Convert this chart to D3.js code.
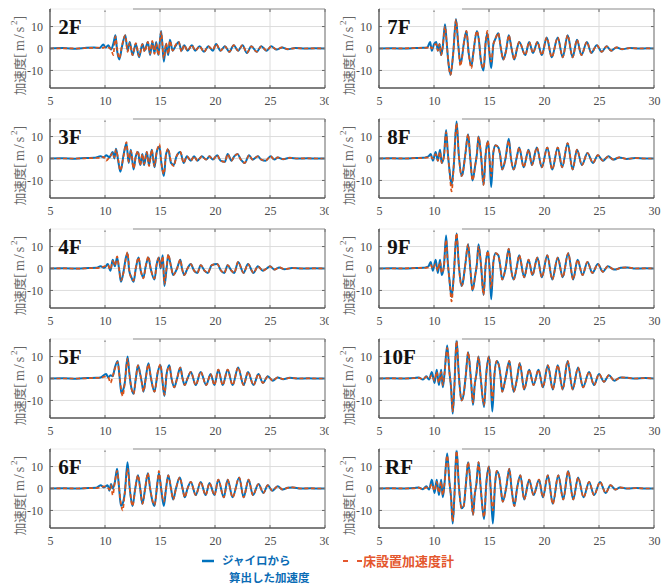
<!DOCTYPE html>
<html>
<head>
<meta charset="utf-8">
<script src="https://cdn.jsdelivr.net/npm/d3@7"></script>
<style>
  body { margin: 0; background: #fff; }
  svg { display: block; }
</style>
</head>
<body>
<script>
// Floor names: left column 2F–6F, right column 7F–RF
const floors = ["2F", "3F", "4F", "5F", "6F", "7F", "8F", "9F", "10F", "RF"];
const xTicks = [5, 10, 15, 20, 25, 30];
const yTicks = [-10, 0, 10];
const legendLabels = [["ジャイロから", "算出した加速度"], ["床設置加速度計"]];

// Each row: [time (s), acceleration from gyro (m/s²), floor accelerometer (m/s²)]
const floor2F = [
  [5.0,0,0],[6.2,0.2,0.1],[7.4,-0.1,0],[8.3,0.3,0.2],[9.0,0.4,0.3],[9.5,0.2,0.4],
  [9.85,1.8,0.3],[10.05,0.4,0.8],[10.3,1.5,0.5],[10.55,-0.5,-0.3],[10.75,2,-3],[10.95,6,5.5],
  [11.1,-1,0],[11.3,-5,-4.5],[11.55,1,1.5],[11.85,6,6],[12.05,-1,-1.5],[12.25,3,2.5],
  [12.5,-3,-3],[12.8,2,2.5],[13.1,-4,-3.5],[13.4,2,2],[13.6,-1,-1.5],[13.9,3,3],
  [14.1,-3,-2.5],[14.3,3,3.5],[14.5,-2,-2.5],[14.65,3,2.5],[14.85,-3,-3],[15.1,8,7.5],
  [15.35,-6,-4.5],[15.55,2,2.5],[15.75,-3,-2.5],[15.9,4,3.5],[16.15,-1,-1],[16.4,1,1.5],
  [16.7,3,3],[16.95,-1,-1.5],[17.2,1.5,1.5],[17.5,-1,-1],[17.9,1.5,1.5],[18.2,-1,-1],
  [18.6,1,1],[19.0,-1.5,-1.5],[19.4,1,1],[19.8,-1,-0.5],[20.1,2,2],[20.5,-1,-1],
  [20.9,1,1],[21.3,-1.5,-1.5],[21.7,1.5,1.5],[22.1,-1,-1],[22.5,1.5,1.5],[22.9,-2,-2],
  [23.3,1,1],[23.8,-1.5,-1.5],[24.2,1,1],[24.7,-1,-1],[25.1,1,1],[25.6,-0.5,-0.5],
  [26.1,0.5,0.5],[26.6,-0.3,-0.3],[27.3,0.2,0.2],[28.2,0,0],[29.1,0.1,0.1],[30.0,0,0]
];
const floor3F = [
  [5,0,0],[6.1,0.1,0],[7.3,-0.1,0],[8.2,0.2,0.1],[9.0,0.3,0.2],[9.6,1,0.3],[9.9,0.5,0.8],
  [10.1,1.5,-1],[10.4,0.5,0.5],[10.7,3,2.5],[10.85,0,0.5],[11.0,4.5,4],[11.2,-1,-0.5],
  [11.4,-6,-5.5],[11.7,2,1.5],[11.95,7,7.5],[12.15,-2,-1.5],[12.35,4,3.5],[12.6,-5,-4.5],
  [12.8,1,1],[13.0,3,3.5],[13.2,-3,-3],[13.4,2,2],[13.55,-3,-2.5],[13.8,3,3],[14.0,-3,-3.5],
  [14.25,4,4],[14.5,-4,-3.5],[14.7,3,3],[14.95,5.5,6.5],[15.1,-1,-1],[15.35,-8,-7],
  [15.55,2,2],[15.75,4,4.5],[16.0,-2,-1.5],[16.25,-3,-3.5],[16.5,1,1],[16.85,3,3],
  [17.15,-2,-2],[17.45,1,1],[17.8,-1,-1],[18.1,1,1],[18.4,-1,-1],[18.8,1,1],[19.2,-0.5,-0.5],
  [19.5,1,1],[19.8,-0.5,-0.5],[20.2,1.5,1.5],[20.5,-1,-1],[20.9,-1.5,-1.5],[21.15,2,2],
  [21.5,-1,-1],[21.75,1,1],[22.05,2,2],[22.35,-0.5,-0.5],[22.7,-2,-2],[23.1,1.5,1.5],
  [23.4,-0.5,-0.5],[23.9,1,1],[24.2,-0.5,-0.5],[24.6,-1,-1],[25.05,1,1],[25.4,-0.5,-0.5],
  [25.7,0.5,0.5],[26.2,-0.3,-0.3],[26.8,0.3,0.3],[27.5,0,0],[28.4,0.1,0.1],[29.2,0,0],[30,0,0]
];
const floor4F = [
  [5,0,0],[6.3,0.1,0.1],[7.5,0,-0.1],[8.5,0.2,0.1],[9.2,0.3,0.2],[9.6,1,0.4],[9.95,0.3,1],
  [10.25,2,1.5],[10.5,-1,-0.5],[10.7,4,3.5],[10.9,1,1.5],[11.1,5,5.5],[11.3,-1,-1],
  [11.45,-6,-5.5],[11.7,-1,-1.5],[11.9,5,4.5],[12.05,7,7.5],[12.2,-1,-0.5],[12.4,-4,-4.5],
  [12.6,-6,-5.5],[12.8,0,0.5],[13.05,5,5],[13.25,-1,-1],[13.5,-4,-4.5],[13.7,1,1],
  [13.95,5,5.5],[14.15,0,0],[14.5,-5,-4.5],[14.7,2,2],[14.9,5,5],[15.05,0,0.5],[15.25,6,5.5],
  [15.4,-8,-7],[15.6,0,0.5],[15.75,6,6.5],[16.0,1,1],[16.2,-3,-3],[16.55,0,0],[16.85,4,4],
  [17.0,0,0],[17.2,-3,-3],[17.5,0,0],[17.8,2,2],[18.1,-1,-1],[18.4,-2,-2],[18.7,1.5,1.5],
  [19.05,-1,-1],[19.35,-2,-2],[19.7,1.5,1.5],[20.2,2,2],[20.55,-1,-1],[20.85,-2,-2],
  [21.15,1.5,1.5],[21.5,-1,-1],[21.75,-2,-2],[22.1,3,3],[22.6,-2,-2],[23.0,2,2],[23.5,-2,-2],
  [23.9,1,1],[24.35,-1,-1],[24.7,0,0],[25.0,1,1],[25.4,-0.5,-0.5],[25.85,0.5,0.5],
  [26.3,-0.3,-0.3],[27.0,0.2,0.2],[28.0,0,0],[29.0,0.1,0.1],[30,0,0]
];
const floor5F = [
  [5,0,0],[6.2,0.1,0],[7.4,-0.1,0],[8.4,0.2,0.1],[9.2,0.3,0.3],[9.6,0.5,0.3],[10.1,2,1],
  [10.3,0.5,0.5],[10.5,1.5,-2],[10.7,1,1],[10.9,5,4.5],[11.15,8,7.5],[11.3,2,2],[11.5,-7,-6],
  [11.6,-6,-8],[11.8,-2,-2],[12.05,10,9],[12.2,3,3],[12.35,-3,-3],[12.6,-7,-7],[12.8,0,0],
  [13.0,6,6],[13.2,2,2],[13.35,-2,-2],[13.5,-6,-6],[13.7,0,0],[13.95,7,6.5],[14.15,1,1],
  [14.5,-6,-6],[14.8,3,3],[15.05,6,6.5],[15.2,0,0],[15.4,-8,-7.5],[15.6,2,2],[15.85,6,5.5],
  [16.05,0,0],[16.3,-4,-4],[16.55,0,0],[16.85,5,5],[17.05,0,0],[17.25,-3,-3],[17.5,0,0],
  [17.8,3,3],[18.25,-3,-3],[18.7,3,3],[19.2,-3,-3],[19.6,2,2],[19.95,-3,-3],[20.3,4,4],
  [20.7,-3,-3],[21.15,4,4],[21.6,-3,-3],[22.1,5,5],[22.6,-3,-3],[23.0,3,3],[23.5,-3,-3],
  [23.95,2,2],[24.35,-2,-2],[24.8,1,1],[25.25,-1,-1],[25.7,0.5,0.5],[26.2,-0.3,-0.3],
  [26.8,0.3,0.3],[27.6,0,0],[28.5,0.1,0.1],[29.3,0,0],[30,0,0]
];
const floor6F = [
  [5,0,0],[6.3,0.1,0.1],[7.5,0,0],[8.5,0.2,0.2],[9.2,0.3,0.2],[9.6,1.5,0.5],[9.9,0.5,1],
  [10.25,1.5,0.5],[10.4,-1,-0.5],[10.55,2,1.5],[10.7,0,-3],[10.9,3,3],[11.1,9,8],[11.25,2,2],
  [11.45,-8,-7],[11.6,-7,-10],[11.8,-2,-2],[12.05,12,9],[12.25,0,0],[12.5,-8,-8],[12.75,0,0],
  [13.0,6,6],[13.2,0,0],[13.4,-7,-7],[13.65,0,0],[13.9,7,7],[14.1,0,0],[14.5,-8,-7.5],
  [14.75,2,2],[14.9,7,8],[15.1,0,0],[15.35,-8,-6],[15.55,0,0],[15.75,6,6],[16.0,0,0],
  [16.2,-5,-5],[16.45,0,0],[16.8,5,5],[17.05,0,0],[17.25,-4,-4],[17.5,0,0],[17.8,3,3],
  [18.25,-3,-3],[18.7,3,3],[19.15,-3,-3],[19.5,2.5,2.5],[19.95,-3,-3],[20.3,4,4],[20.8,-4,-4],
  [21.15,4,4],[21.6,-4,-4],[22.2,5,5],[22.6,-4,-4],[23.05,4,4],[23.45,-3,-3],[23.95,2,2],
  [24.4,-2,-2],[24.8,1.5,1.5],[25.2,-1,-1],[25.7,1,1],[26.15,-0.5,-0.5],[26.6,0.3,0.3],
  [27.05,0.5,0.5],[27.8,0,0],[28.7,0.1,0.1],[29.4,0,0],[30,0,0]
];
const floor7F = [
  [5,0,0],[6.2,0.1,0],[7.4,0,0.1],[8.3,0.2,0.2],[9.0,0.3,0.3],[9.4,0.5,0.4],[9.65,3,1],
  [9.8,-1,0],[10.0,2,1.5],[10.2,3,2],[10.35,-1,-1],[10.5,2,2],[10.65,-3,-3],[10.8,1,1],
  [11.0,11,10],[11.15,3,3],[11.3,-6,-6],[11.5,-12,-12],[11.75,-2,-2],[12.0,13.5,13],
  [12.2,2,2],[12.4,-7,-8],[12.55,-4,-4],[12.7,2,2],[12.95,8,8],[13.15,-2,-2],[13.4,-8,-9],
  [13.55,-3,-3],[13.9,8,8],[14.1,3,3],[14.25,-5,-5],[14.5,-10,-9],[14.7,3,3],[14.85,7,8],
  [15.0,0,0],[15.2,-9,-6],[15.4,2,2],[15.55,4,4],[15.85,7,7],[16.05,1,1],[16.3,-5,-5],
  [16.55,-1,-1],[16.8,6,6],[17.05,0,0],[17.3,-5,-5],[17.55,0,0],[17.75,3,3],[18.3,-3,-3],
  [18.65,3,3],[19.0,-2,-2],[19.4,3,3],[19.8,-3,-3],[20.25,5,5],[20.7,-4,-4],[21.25,5,5],
  [21.7,-4,-4],[22.15,6,6],[22.6,-4,-4],[23.0,4,4],[23.4,-3,-3],[23.9,3,3],[24.3,-2,-2],
  [24.8,1.5,1.5],[25.25,-1.5,-1.5],[25.7,1,1],[26.1,-1,-1],[26.6,0.5,0.5],[27.1,-0.3,-0.3],
  [27.8,0.2,0.2],[28.7,0,0],[29.4,0.1,0.1],[30,0,0]
];
const floor8F = [
  [5,0,0],[6.2,0.1,0.1],[7.4,0,0],[8.3,0.2,0.2],[9.0,0.3,0.2],[9.25,0.5,0.4],[9.5,1,0.5],
  [9.7,2,1],[9.9,-1,0],[10.15,3,2],[10.35,-1,-1],[10.55,4,3],[10.7,-2,-2],[10.9,1,1],
  [11.1,13,12],[11.25,3,3],[11.4,-5,-5],[11.6,-12,-15],[11.8,-3,-3],[12.05,17,16],
  [12.25,2,2],[12.5,-8,-8],[12.6,-7,-7],[12.85,2,2],[13.1,11,11],[13.3,0,0],[13.5,-10,-10],
  [13.75,-3,-3],[13.9,2,2],[14.05,10,10],[14.3,0,0],[14.5,-12,-12],[14.7,2,2],[14.9,8,8],
  [15.05,0,0],[15.2,-13,-8],[15.4,3,3],[15.6,6,6],[15.85,5,5],[16.0,2,2],[16.2,-5,-5],
  [16.5,0,0],[16.8,9,8],[17.0,0,0],[17.25,-5,-5],[17.5,0,0],[17.75,5,5],[18.15,-4,-4],
  [18.6,4,4],[18.9,-3,-3],[19.35,5,5],[19.8,-4,-4],[20.3,5,5],[20.75,-5,-5],[21.25,5,5],
  [21.65,-4,-4],[22.15,7,7],[22.6,-5,-5],[23.0,4,4],[23.45,-3,-3],[23.95,2.5,2.5],
  [24.45,-2,-2],[24.9,1.5,1.5],[25.35,-1,-1],[25.85,1,1],[26.3,-0.5,-0.5],[26.85,0.5,0.5],
  [27.5,-0.2,-0.2],[28.3,0.2,0.2],[29.2,0,0],[30,0,0]
];
const floor9F = [
  [5,0,0],[6.2,0.1,0],[7.4,0,0.1],[8.3,0.2,0.2],[9.0,0.3,0.3],[9.25,0.5,0.3],[9.5,1,0.5],
  [9.7,3,1.5],[9.9,-1,0],[10.15,4,2],[10.35,-2,-1],[10.55,4,3],[10.7,-3,-2],[10.9,1,1],
  [11.1,15,13],[11.25,3,3],[11.4,-5,-5],[11.6,-13,-15],[11.8,-3,-3],[12.05,16,16],
  [12.25,2,2],[12.5,-8,-8],[12.6,-7,-7],[12.85,2,2],[13.1,11,11],[13.3,0,0],[13.5,-10,-10],
  [13.75,-3,-3],[13.9,2,2],[14.05,11,10],[14.3,0,0],[14.5,-12,-12],[14.7,2,2],[14.9,8,8],
  [15.05,0,0],[15.2,-14,-9],[15.4,3,3],[15.6,7,7],[15.85,6,6],[16.0,2,2],[16.2,-5,-5],
  [16.5,0,0],[16.8,9,9],[17.0,0,0],[17.25,-5,-5],[17.5,0,0],[17.75,6,6],[18.2,-4,-4],
  [18.6,4,4],[18.95,-3,-3],[19.4,5,5],[19.8,-4,-4],[20.3,6,6],[20.75,-5,-5],[21.25,5,5],
  [21.7,-4,-4],[22.2,7,7],[22.65,-5,-5],[23.05,4,4],[23.5,-3,-3],[23.95,3,3],[24.4,-2,-2],
  [24.9,2,2],[25.35,-1.5,-1.5],[25.8,1,1],[26.4,-0.5,-0.5],[27.0,0.3,0.3],[27.6,0.5,0.5],
  [28.3,0,0],[29.2,0.1,0.1],[30,0,0]
];
const floor10F = [
  [5,0,0],[6.2,0.1,0.1],[7.4,0,0],[8.2,0.2,0.2],[8.6,0.5,0.3],[9.0,-0.5,-0.3],[9.3,1,0.8],
  [9.55,-0.5,0],[9.8,3,1.5],[10.05,-2,-1],[10.25,4,3],[10.45,-3,-2],[10.65,4,3],[10.8,-4,-3],
  [10.95,2,2],[11.2,15,14],[11.4,3,3],[11.55,-4,-4],[11.7,-16,-15],[11.85,-4,-4],
  [12.05,18,17],[12.25,2,2],[12.5,-10,-10],[12.7,-7,-7],[12.9,2,2],[13.1,12,12],[13.35,0,0],
  [13.55,-12,-11],[13.7,-3,-3],[13.85,2,2],[14.05,10,10],[14.25,0,0],[14.55,-13,-12],
  [14.75,2,2],[15.0,10,10],[15.15,0,0],[15.3,-15,-10],[15.5,2,2],[15.7,8,8],[15.9,6,6],
  [16.05,1,1],[16.2,-6,-6],[16.5,0,0],[16.85,8,8],[17.05,0,0],[17.25,-6,-6],[17.55,0,0],
  [17.8,7,7],[18.2,-5,-5],[18.65,4,4],[19.05,-3,-3],[19.5,4,4],[19.9,-4,-4],[20.35,6,6],
  [20.8,-5,-5],[21.25,6,6],[21.7,-5,-5],[22.15,8,8],[22.6,-5,-5],[23.1,5,5],[23.55,-4,-4],
  [24.1,3,3],[24.55,-3,-3],[25.0,2,2],[25.45,-1.5,-1.5],[25.9,1.5,1.5],[26.4,-1,-1],
  [26.95,0.5,0.5],[27.6,0.3,0.3],[28.3,0,0],[29.2,0.2,0.2],[30,0,0]
];
const floorRF = [
  [5,0,0],[6.2,0.1,0.1],[7.4,0,0],[8.2,0.2,0.1],[8.6,0.5,0.4],[9.0,-0.3,-0.3],[9.3,1,0.5],
  [9.55,-0.5,0],[9.8,4,2],[10.05,-2,-1],[10.25,4,3],[10.45,-3,-2],[10.65,4,3],[10.8,-4,-3],
  [10.95,2,2],[11.2,16,15],[11.4,3,3],[11.55,-4,-4],[11.7,-16,-15],[11.85,-4,-4],
  [12.05,18,17],[12.25,2,2],[12.5,-9,-9],[12.7,-8,-8],[12.9,2,2],[13.1,12,12],[13.35,0,0],
  [13.55,-12,-12],[13.7,-3,-3],[13.85,2,2],[14.05,12,12],[14.25,0,0],[14.55,-14,-13],
  [14.75,2,2],[15.0,10,10],[15.15,0,0],[15.35,-16,-10],[15.55,2,2],[15.7,8,8],[15.95,5,5],
  [16.05,1,1],[16.25,-6,-6],[16.55,0,0],[16.85,9,9],[17.05,0,0],[17.3,-8,-8],[17.55,0,0],
  [17.85,6,6],[18.2,-5,-5],[18.65,4,4],[19.05,-3,-3],[19.55,4,4],[19.9,-4,-4],[20.35,6,6],
  [20.8,-7,-7],[21.3,6,6],[21.75,-5,-5],[22.2,8,8],[22.65,-5,-5],[23.1,5,5],[23.6,-4,-4],
  [24.1,3,3],[24.55,-3,-3],[25.1,3,3],[25.6,-2,-2],[26.05,1.5,1.5],[26.5,-0.5,-0.5],
  [26.9,0.5,0.5],[27.6,0,0],[28.4,0.2,0.2],[29.2,0,0],[30,0,0]
];

const floorData = {
  "2F": floor2F, "3F": floor3F, "4F": floor4F, "5F": floor5F, "6F": floor6F,
  "7F": floor7F, "8F": floor8F, "9F": floor9F, "10F": floor10F, "RF": floorRF
};

const W = 669, H = 584;
const BLUE = "#0072BD", ORANGE = "#D95319";
const colLeft = [50, 379];
const rowTop = [9, 119, 229, 339, 449];
const plotW = 275, plotH = 79;
const leftColEdge = 329;   // the left column is trimmed where the right column begins
const serif = "'Liberation Serif', 'Times New Roman', serif";
const cjk = "'Noto Sans CJK JP', 'Noto Sans CJK SC', sans-serif";

const svg = d3.select("body").append("svg")
  .attr("width", W).attr("height", H)
  .style("background", "#fff");

const defs = svg.append("defs");
defs.append("clipPath").attr("id", "plot-clip")
  .append("rect").attr("x", 0).attr("y", 0).attr("width", plotW).attr("height", plotH);
defs.append("clipPath").attr("id", "left-col-clip")
  .append("rect").attr("x", 0).attr("y", 0).attr("width", leftColEdge).attr("height", H);

const leftCol = svg.append("g").attr("clip-path", "url(#left-col-clip)");
const rightCol = svg.append("g");

const x = d3.scaleLinear().domain([5, 30]).range([0, plotW]);
const y = d3.scaleLinear().domain([-18, 18]).range([plotH, 0]);

const lineGyro = d3.line().x(d => x(d[0])).y(d => y(d[1])).curve(d3.curveMonotoneX);
const lineAcc = d3.line().x(d => x(d[0])).y(d => y(d[2])).curve(d3.curveMonotoneX);

floors.forEach((name, i) => {
  const col = i < 5 ? 0 : 1;
  const row = i % 5;
  const g = (col === 0 ? leftCol : rightCol).append("g")
    .attr("transform", `translate(${colLeft[col]},${rowTop[row]})`);

  // grid
  g.append("g").selectAll("line").data(xTicks).join("line")
    .attr("x1", d => x(d)).attr("x2", d => x(d))
    .attr("y1", 0).attr("y2", plotH)
    .attr("stroke", "#dcdcdc").attr("stroke-width", 1);
  g.append("g").selectAll("line").data(yTicks).join("line")
    .attr("x1", 0).attr("x2", plotW)
    .attr("y1", d => y(d)).attr("y2", d => y(d))
    .attr("stroke", "#dcdcdc").attr("stroke-width", 1);

  // series: gyro-derived (solid blue) under the accelerometer (dashed orange)
  const plot = g.append("g").attr("clip-path", "url(#plot-clip)");
  const data = floorData[name];
  plot.append("path").datum(data)
    .attr("d", lineGyro)
    .attr("fill", "none").attr("stroke", BLUE)
    .attr("stroke-width", 2).attr("stroke-linejoin", "round");
  plot.append("path").datum(data)
    .attr("d", lineAcc)
    .attr("fill", "none").attr("stroke", ORANGE)
    .attr("stroke-width", 1.7).attr("stroke-dasharray", "4,2.5")
    .attr("stroke-linejoin", "round");

  // axes
  const xAxis = d3.axisBottom(x).tickValues(xTicks).tickSize(0).tickPadding(8);
  const yAxis = d3.axisLeft(y).tickValues(yTicks).tickSize(0).tickPadding(7)
    .tickFormat(d => d3.format("d")(d).replace("−", "-"));
  const gx = g.append("g").attr("transform", `translate(0,${plotH})`).call(xAxis);
  const gy = g.append("g").call(yAxis);
  [gx, gy].forEach(a => {
    a.select(".domain").remove();
    a.selectAll("text").attr("font-family", serif).attr("font-size", 12).attr("fill", "#4a4a4a");
  });

  // tick marks inside the box
  const tk = g.append("g").attr("stroke", "#666").attr("stroke-width", 1);
  xTicks.forEach(t => {
    tk.append("line").attr("x1", x(t)).attr("x2", x(t)).attr("y1", plotH).attr("y2", plotH - 3);
    tk.append("line").attr("x1", x(t)).attr("x2", x(t)).attr("y1", 0).attr("y2", 3);
  });
  yTicks.forEach(t => {
    tk.append("line").attr("x1", 0).attr("x2", 3).attr("y1", y(t)).attr("y2", y(t));
    tk.append("line").attr("x1", plotW).attr("x2", plotW - 3).attr("y1", y(t)).attr("y2", y(t));
  });

  // box
  g.append("line").attr("x1", 0).attr("x2", plotW).attr("y1", 0).attr("y2", 0)
    .attr("stroke", "#8a8a8a").attr("stroke-width", 1.2);
  g.append("line").attr("x1", plotW).attr("x2", plotW).attr("y1", 0).attr("y2", plotH)
    .attr("stroke", "#8a8a8a").attr("stroke-width", 1.2);
  g.append("line").attr("x1", 0).attr("x2", 0).attr("y1", 0).attr("y2", plotH)
    .attr("stroke", "#555").attr("stroke-width", 1.3);
  g.append("line").attr("x1", 0).attr("x2", plotW).attr("y1", plotH).attr("y2", plotH)
    .attr("stroke", "#555").attr("stroke-width", 1.3);

  // white background of the floor label box over the top edge
  g.append("rect").attr("x", 1).attr("y", -2).attr("width", 82).attr("height", 3.5)
    .attr("fill", "#fff").attr("opacity", 0.85);

  // floor label
  g.append("text")
    .attr("x", 20).attr("y", 25)
    .attr("text-anchor", "middle")
    .attr("font-family", serif).attr("font-weight", "bold")
    .attr("font-size", 21).attr("fill", "#111")
    .text(name);

  // y-axis title: kanji in gothic, unit in serif with superscript
  const yt = g.append("text")
    .attr("transform", `translate(-31,${plotH / 2 + 7}) rotate(-90)`)
    .attr("text-anchor", "middle").attr("dominant-baseline", "central")
    .attr("fill", "#666");
  yt.append("tspan").attr("font-family", cjk).attr("font-size", 12.5).text("加速度");
  yt.append("tspan").attr("font-family", serif).attr("font-size", 14)
    .attr("letter-spacing", 2).text("[m/s");
  yt.append("tspan").attr("font-family", serif).attr("font-size", 9).attr("dy", -5).text("2");
  yt.append("tspan").attr("font-family", serif).attr("font-size", 14).attr("dy", 5).text("]");
});

// legend
const lg = svg.append("g").attr("font-family", cjk).attr("font-weight", "bold");
lg.append("line").attr("x1", 202).attr("x2", 214).attr("y1", 561).attr("y2", 561)
  .attr("stroke", BLUE).attr("stroke-width", 2.5);
lg.append("text").attr("x", 222).attr("y", 565).attr("font-size", 11.5)
  .attr("fill", "#0B6CB5").text(legendLabels[0][0]);
lg.append("text").attr("x", 229).attr("y", 582).attr("font-size", 11.5)
  .attr("fill", "#0B6CB5").text(legendLabels[0][1]);
lg.append("line").attr("x1", 343).attr("x2", 362).attr("y1", 561).attr("y2", 561)
  .attr("stroke", "#E4572E").attr("stroke-width", 2.2).attr("stroke-dasharray", "5,9");
lg.append("text").attr("x", 363).attr("y", 566).attr("font-size", 13)
  .attr("fill", "#E4572E").text(legendLabels[1][0]);
</script>
</body>
</html>
